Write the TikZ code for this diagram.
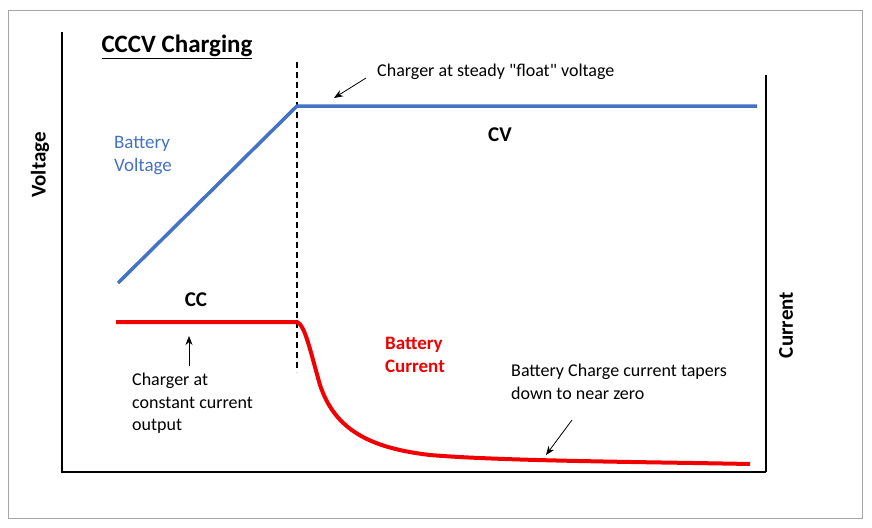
\documentclass[tikz,border=0pt]{standalone}
\usepackage{fontspec}
\setmainfont{Carlito}
\newfontfamily\qf[Ligatures=TeXOff]{Carlito}
\usetikzlibrary{arrows.meta}
\definecolor{vblue}{RGB}{68,114,196}
\definecolor{cred}{RGB}{240,0,0}
\begin{document}
\begin{tikzpicture}[x=1pt,y=-1pt,
  lbl/.style={font=\fontsize{18}{22.5}\selectfont,inner sep=1pt},
  bl/.style={font=\fontsize{21}{24}\selectfont\bfseries,inner sep=1pt},
  ann/.style={-{Stealth[length=9pt,width=7pt]},line width=0.8pt}]
\useasboundingbox (0,0) rectangle (872,527);
\draw[gray!70,line width=0.8pt] (8,10) rectangle (862,518);
\draw[line width=1.4pt] (62,32) -- (62,472) -- (766,472);
\draw[line width=1.4pt] (766,75) -- (766,472);
\node[font=\fontsize{25}{28}\selectfont\bfseries,inner sep=1pt] (title) at (177,47) {\underline{CCCV Charging}};
\draw[dash pattern=on 6pt off 4pt,line width=1.2pt] (297,62) -- (297,372);
\draw[vblue,line width=3.5pt] (118,283) -- (297,106) -- (757,106);
\draw[cred,line width=4pt] (116,322) -- (297,322) .. controls (305,325) and (310,350) .. (320,385)
  .. controls (335,430) and (370,448) .. (430,455) .. controls (500,461) and (650,462) .. (750,464);
\node[lbl,text=vblue,align=left,font=\fontsize{19}{23}\selectfont] (bv) at (143,156) {Battery\\Voltage};
\node[bl] (cv) at (500,135) {CV};
\node[bl] (cc) at (196,300) {CC};
\node[lbl,text=cred,align=left,font=\fontsize{19}{23}\selectfont\bfseries] (bc) at (415,355) {Battery\\Current};
\node[bl,rotate=90] (vol) at (40,165) {Voltage};
\node[bl,rotate=90] (cur) at (786,325) {Current};
\node[lbl,anchor=west,font=\fontsize{18}{22.5}\qf] (float) at (376,72) {Charger at steady "float" voltage};
\coordinate (fa) at (334,98);
\draw[ann] (366,78) -- (fa);
\node[lbl,anchor=north west,align=left] (ccout) at (131,372) {Charger at\\constant current\\output};
\coordinate (ca) at (189,336);
\draw[ann] (189,366) -- (ca);
\node[lbl,anchor=north west,align=left] (taper) at (510,363) {Battery Charge current tapers\\down to near zero};
\coordinate (ta) at (546,455);
\draw[ann] (572,420) -- (ta);
\end{tikzpicture}
\end{document}
